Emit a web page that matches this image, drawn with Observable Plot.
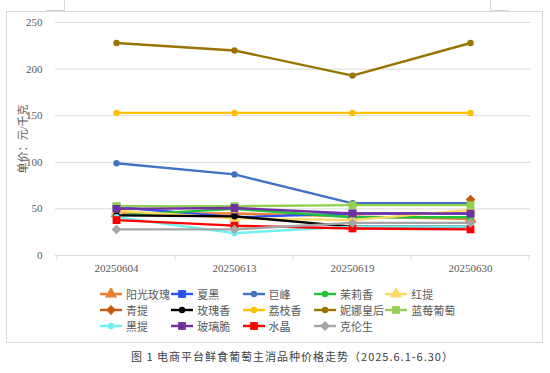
<!DOCTYPE html>
<html><head><meta charset="utf-8">
<script src="https://cdn.jsdelivr.net/npm/d3@7"></script>
<script src="https://cdn.jsdelivr.net/npm/@observablehq/plot@0.6"></script>
<style>
body{margin:0;background:#fff;}
#wrap{position:relative;width:550px;height:373px;overflow:hidden;font-family:"Noto Sans CJK SC",sans-serif;}
#frame{position:absolute;left:6px;top:11px;width:537px;height:332px;border:1px solid #d9d9d9;box-sizing:border-box;}
.deco{position:absolute;border-color:#d9d9d9;border-style:solid;border-width:0;}
#chart{position:absolute;left:0;top:0;}
#legend{position:absolute;left:0;top:286px;width:550px;height:50px;}
.item{position:absolute;display:flex;align-items:center;font-size:11px;color:#595959;white-space:nowrap;height:16px;}
.item svg{margin-right:3px;}
#caption{position:absolute;top:348px;left:131px;font-size:11px;color:#404040;letter-spacing:1px;white-space:nowrap;}
</style></head>
<body>
<div id="wrap">
  <div class="deco" style="left:46px;top:0;width:18px;height:10px;border-right-width:1px;border-bottom-width:1px;"></div>
  <div class="deco" style="left:490px;top:0;width:18px;height:10px;border-left-width:1px;border-bottom-width:1px;"></div>
  <div id="frame"></div>
  <div id="chart"></div>
  <div id="legend"></div>
  <div id="caption">图 1 电商平台鲜食葡萄主消品种价格走势（2025.6.1-6.30）</div>
</div>
<script>
const dates = ["20250604", "20250613", "20250619", "20250630"];
const yTicks = [0, 50, 100, 150, 200, 250];

const seriesNames   = ["阳光玫瑰", "夏黑", "巨峰", "茉莉香", "红提", "青提", "玫瑰香", "荔枝香", "妮娜皇后", "蓝莓葡萄", "黑提", "玻璃脆", "水晶", "克伦生"];
const seriesColors  = ["#ED7D31", "#2A52F5", "#4472C4", "#22C33B", "#FFD966", "#C55A11", "#000000", "#FFC000", "#997300", "#92D050", "#6EF0F5", "#7030A0", "#FF0000", "#A5A5A5"];
const seriesSymbols = ["triangle", "square", "circle", "circle", "triangle", "diamond2", "circle", "circle", "circle", "square", "circle", "square", "square", "diamond2"];

const yangguangmeigui = [45, 45, 42, 39];
const xiahei          = [52, 41, 45, 45];
const jufeng          = [99, 87, 56, 56];
const molixiang       = [43, 50, 41, 41];
const hongti          = [48, 40, 38, 49];
const qingti          = [null, null, null, 60];
const meiguixiang     = [43, 42, 31, 31];
const lizhixiang      = [153, 153, 153, 153];
const ninahuanghou    = [228, 220, 193, 228];
const lanmeiputao     = [53, 53, 54, 54];
const heiti           = [41, 24, 31, 31];
const bolicui         = [50, 51, 45, 45];
const shuijing        = [38, 32, 29, 28];
const kelunsheng      = [28, 28, 35, 35];

const seriesValues = [yangguangmeigui, xiahei, jufeng, molixiang, hongti, qingti, meiguixiang,
  lizhixiang, ninahuanghou, lanmeiputao, heiti, bolicui, shuijing, kelunsheng];

const symbolR = {circle: 3.2, square: 4.4, triangle: 4.6, diamond2: 4.4};

const marks = [
  Plot.gridY({ticks: yTicks, stroke: "#d9d9d9", strokeOpacity: 1, strokeWidth: 1}),
  Plot.ruleY([0], {stroke: "#d9d9d9", strokeWidth: 1}),
  Plot.axisY({ticks: yTicks, tickSize: 0, tickPadding: 13, fill: "#595959",
    label: "单价：元/千克", labelAnchor: "center", labelOffset: 36, labelArrow: "none"}),
  Plot.axisX({tickSize: 0, tickPadding: 9, fill: "#595959", label: null})
];

seriesNames.forEach((name, i) => {
  const rows = dates.map((d, j) => ({date: d, value: seriesValues[i][j]}));
  marks.push(Plot.line(rows, {x: "date", y: "value", stroke: seriesColors[i], strokeWidth: 2.4}));
  marks.push(Plot.dot(rows, {x: "date", y: "value", fill: seriesColors[i], stroke: "none",
    symbol: seriesSymbols[i], r: symbolR[seriesSymbols[i]]}));
});

const plot = Plot.plot({
  width: 550, height: 280,
  marginLeft: 55, marginRight: 20, marginTop: 22, marginBottom: 25,
  style: {fontFamily: "'Liberation Serif', 'Noto Sans CJK SC', serif", fontSize: "11px", color: "#595959", background: "transparent", overflow: "visible"},
  x: {type: "point", domain: dates, padding: 0.5, label: null},
  y: {domain: [0, 250], label: null},
  marks
});
document.getElementById("chart").appendChild(plot);

// category separator ticks on the x axis, from the plot's own scales
const sx = plot.scale("x"), sy = plot.scale("y");
const centers = dates.map(d => sx.apply(d));
const step = centers[1] - centers[0];
const bounds = centers.map(c => c - step / 2).concat([centers[centers.length - 1] + step / 2]);
const y0 = sy.apply(0);
d3.select(plot).append("g").selectAll("line").data(bounds).join("line")
  .attr("x1", d => d).attr("x2", d => d).attr("y1", y0).attr("y2", y0 + 5)
  .attr("stroke", "#d9d9d9");

// legend
const legend = d3.select("#legend");
const symMap = {circle: d3.symbolCircle, square: d3.symbolSquare, triangle: d3.symbolTriangle, diamond2: d3.symbolDiamond2};
seriesNames.forEach((name, i) => {
  const col = i % 5, row = Math.floor(i / 5);
  const item = legend.append("div").attr("class", "item")
    .style("left", (99 + col * 71.3) + "px").style("top", (row * 16) + "px");
  const svg = item.append("svg").attr("width", 24).attr("height", 12);
  svg.append("line").attr("x1", 1).attr("x2", 23).attr("y1", 6).attr("y2", 6)
    .attr("stroke", seriesColors[i]).attr("stroke-width", 2.4);
  const r = symbolR[seriesSymbols[i]];
  svg.append("path").attr("transform", "translate(12,6)")
    .attr("d", d3.symbol(symMap[seriesSymbols[i]], Math.PI * r * r)())
    .attr("fill", seriesColors[i]);
  item.append("span").text(name);
});
</script>
</body></html>
